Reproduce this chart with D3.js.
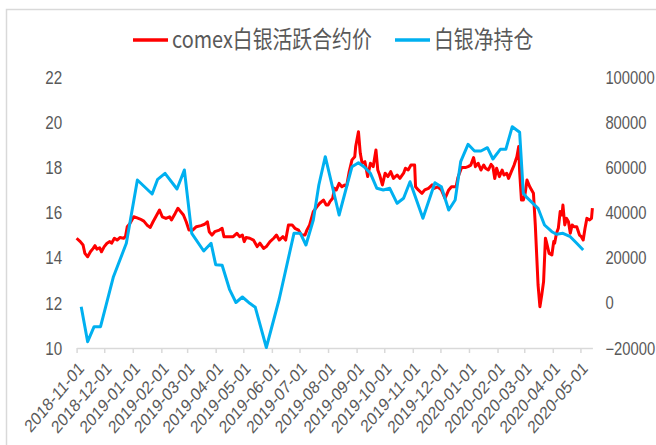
<!DOCTYPE html>
<html>
<head>
<meta charset="utf-8">
<script src="https://cdn.jsdelivr.net/npm/d3@7"></script>
<style>
  body { margin: 0; background: #fff; }
  svg { display: block; }
</style>
</head>
<body>
<div id="chart"></div>
<script>
// series names (legend)
var seriesNames = ["comex白银活跃合约价", "白银净持仓"];

// comex silver price, left axis
var priceDates = [
  "2018-11-01","2018-11-05","2018-11-08","2018-11-10","2018-11-13","2018-11-16","2018-11-19","2018-11-21","2018-11-23","2018-11-26",
  "2018-11-28","2018-12-01","2018-12-04","2018-12-07","2018-12-09","2018-12-12","2018-12-15","2018-12-18","2018-12-22","2018-12-24",
  "2018-12-26","2018-12-29","2019-01-02","2019-01-05","2019-01-09","2019-01-13","2019-01-17","2019-01-20","2019-01-23","2019-01-26",
  "2019-01-30","2019-02-02","2019-02-06","2019-02-10","2019-02-12","2019-02-16","2019-02-19","2019-02-22","2019-02-25","2019-02-28",
  "2019-03-03","2019-03-07","2019-03-11","2019-03-16","2019-03-20","2019-03-23","2019-03-25","2019-03-28","2019-03-31","2019-04-05",
  "2019-04-08","2019-04-10","2019-04-15","2019-04-20","2019-04-24","2019-04-27","2019-04-30","2019-05-02","2019-05-04","2019-05-08",
  "2019-05-12","2019-05-16","2019-05-19","2019-05-23","2019-05-26","2019-05-30","2019-06-03","2019-06-06","2019-06-09","2019-06-13",
  "2019-06-16","2019-06-19","2019-06-23","2019-06-26","2019-06-30","2019-07-03","2019-07-07","2019-07-09","2019-07-12","2019-07-16",
  "2019-07-20","2019-07-23","2019-07-27","2019-07-30","2019-08-01","2019-08-03","2019-08-06","2019-08-08","2019-08-10","2019-08-13",
  "2019-08-16","2019-08-19","2019-08-21","2019-08-24","2019-08-27","2019-08-30","2019-08-31","2019-09-03","2019-09-05","2019-09-07",
  "2019-09-10","2019-09-13","2019-09-16","2019-09-19","2019-09-22","2019-09-24","2019-09-26","2019-09-29","2019-10-02","2019-10-05",
  "2019-10-08","2019-10-11","2019-10-15","2019-10-18","2019-10-22","2019-10-24","2019-10-27","2019-10-30","2019-11-03","2019-11-04",
  "2019-11-07","2019-11-11","2019-11-14","2019-11-18","2019-11-22","2019-11-24","2019-11-28","2019-12-02","2019-12-06","2019-12-10",
  "2019-12-13","2019-12-18","2019-12-20","2019-12-24","2019-12-28","2019-12-31","2020-01-03","2020-01-06","2020-01-08","2020-01-11",
  "2020-01-14","2020-01-17","2020-01-19","2020-01-22","2020-01-25","2020-01-27","2020-01-29","2020-01-31","2020-02-03","2020-02-06",
  "2020-02-08","2020-02-11","2020-02-13","2020-02-16","2020-02-19","2020-02-22","2020-02-24","2020-02-25","2020-02-27","2020-02-29",
  "2020-03-02","2020-03-04","2020-03-07","2020-03-11","2020-03-13","2020-03-15","2020-03-16","2020-03-18","2020-03-20","2020-03-22",
  "2020-03-24","2020-03-25","2020-03-28","2020-03-31","2020-04-02","2020-04-03","2020-04-05","2020-04-07","2020-04-09","2020-04-11",
  "2020-04-12","2020-04-14","2020-04-16","2020-04-18","2020-04-20","2020-04-22","2020-04-24","2020-04-27","2020-04-30","2020-05-02",
  "2020-05-04","2020-05-06","2020-05-08","2020-05-11","2020-05-13","2020-05-14"
];
var priceValues = [
  14.86,14.71,14.56,14.19,14.04,14.26,14.41,14.53,14.38,14.44,
  14.26,14.49,14.64,14.71,14.64,14.86,14.78,14.89,14.86,14.93,
  15.37,15.52,15.81,15.77,15.71,15.62,15.42,15.34,15.59,15.81,
  16.11,15.81,15.74,15.81,15.67,15.96,16.19,16.04,15.89,15.59,
  15.22,15.22,15.37,15.42,15.48,15.59,15.15,15.00,15.15,15.22,
  15.30,14.93,14.93,14.93,15.08,14.93,15.00,14.71,14.89,14.86,
  14.78,14.49,14.64,14.41,14.49,14.71,14.86,15.00,14.78,14.93,
  14.78,15.45,15.45,15.30,15.22,15.00,15.00,15.22,15.45,16.04,
  16.26,16.41,16.55,16.33,16.33,16.48,16.63,17.07,17.00,17.29,
  17.14,17.22,17.14,17.81,18.33,18.47,18.92,19.58,18.62,18.18,
  18.25,17.59,18.18,18.03,18.77,17.88,17.66,17.22,17.74,17.59,
  17.81,17.51,17.66,17.51,17.74,17.96,17.88,18.10,18.10,17.14,
  17.00,16.85,17.00,17.07,17.22,17.07,17.14,17.00,16.63,17.00,
  17.14,17.14,17.55,17.99,17.99,18.03,18.10,18.43,18.03,18.18,
  17.88,18.10,17.96,17.88,18.13,18.03,17.51,17.96,17.59,17.88,
  17.66,17.74,17.51,17.81,18.10,18.47,18.92,17.81,16.55,16.55,
  16.85,17.44,17.14,16.85,15.45,13.68,12.79,11.83,12.35,12.94,
  14.86,14.71,14.19,14.12,14.71,14.64,15.08,15.30,16.04,15.89,
  16.33,15.45,15.74,15.59,15.08,15.45,15.37,15.37,15.00,14.93,
  14.78,15.30,15.74,15.67,15.74,16.19
];

// silver net position, right axis
var holdDates = [
  "2018-11-06","2018-11-13","2018-11-20","2018-11-27","2018-12-11","2018-12-25","2019-01-06","2019-01-22","2019-01-28","2019-02-05",
  "2019-02-18","2019-02-26","2019-03-06","2019-03-19","2019-03-27","2019-04-01","2019-04-08","2019-04-16","2019-04-23","2019-04-30",
  "2019-05-08","2019-05-14","2019-05-26","2019-06-09","2019-06-25","2019-07-02","2019-07-08","2019-07-16","2019-07-22","2019-07-29",
  "2019-08-13","2019-08-27","2019-09-03","2019-09-09","2019-09-16","2019-09-23","2019-09-30","2019-10-07","2019-10-15","2019-10-22",
  "2019-10-29","2019-11-12","2019-11-25","2019-12-02","2019-12-10","2019-12-17","2019-12-23","2019-12-31","2020-01-07","2020-01-14",
  "2020-01-21","2020-01-27","2020-02-04","2020-02-10","2020-02-17","2020-02-25","2020-02-29","2020-03-04","2020-03-16","2020-03-23",
  "2020-03-31","2020-04-05","2020-04-12","2020-04-20","2020-04-27","2020-05-04"
];
var holdValues = [
  -1700,-17200,-10570,-10570,11570,26360,54390,48190,54700,57360,
  50410,58820,30790,22950,26360,16890,16620,5990,150,2580,
  -200,-1980,-19780,1700,30790,30790,25610,36680,52180,64710,
  38890,60280,62050,60280,57360,50720,49960,50720,44070,46290,
  53640,37430,53200,51420,41110,45540,62500,70200,67230,67230,
  68690,63690,67990,67990,77990,75510,48500,46550,41860,34470,
  31500,30350,30790,29290,26360,23400
];

// axis ticks
var leftTicks = [10, 12, 14, 16, 18, 20, 22];
var rightTicks = [-20000, 0, 20000, 40000, 60000, 80000, 100000];
var xStart = "2018-11-01", xEnd = "2020-05-14";

var W = 656, H = 445;
var sx = 0.845; // the picture is squeezed horizontally
var red = "#FF0000", blue = "#00B0F0", grey = "#595959", light = "#D9D9D9";
var parse = d3.timeParse("%Y-%m-%d");

var price = priceDates.map(function(d, i) { return { date: parse(d), value: priceValues[i] }; });
var hold = holdDates.map(function(d, i) { return { date: parse(d), value: holdValues[i] }; });

var x = d3.scaleTime().domain([parse(xStart), parse(xEnd)]).range([76.6, 592.4]);
var yL = d3.scaleLinear().domain([10, 22]).range([348, 77]);
var yR = d3.scaleLinear().domain([-20000, 100000]).range([348, 77]);

var svg = d3.select("#chart").append("svg")
  .attr("width", W).attr("height", H);

svg.append("rect").attr("width", W).attr("height", H).attr("fill", "#fff");
svg.append("rect")
  .attr("x", 6.5).attr("y", 9.5).attr("width", W + 10).attr("height", H + 10)
  .attr("fill", "none").attr("stroke", light).attr("stroke-width", 1.5);

var numFont = "'Liberation Sans', Arial, sans-serif";
var cjkFont = "'Noto Sans CJK SC', 'Liberation Sans', sans-serif";

// bottom axis
var xAxis = svg.append("g")
  .attr("transform", "translate(0,348)")
  .call(d3.axisBottom(x)
    .ticks(d3.timeMonth.every(1))
    .tickSize(5).tickSizeOuter(0)
    .tickFormat(d3.timeFormat("%Y-%m-%d")));
xAxis.select(".domain").attr("stroke", light).attr("stroke-width", 1.5);
xAxis.selectAll(".tick line").attr("stroke", light).attr("stroke-width", 1.5);
xAxis.selectAll(".tick text")
  .attr("x", 0).attr("y", 0).attr("dy", "0.35em")
  .attr("text-anchor", "end")
  .attr("transform", "translate(4,17) scale(" + sx + ",1) rotate(-45)")
  .attr("fill", grey)
  .style("font-family", numFont).style("font-size", "18px");

// left axis
var lAxis = svg.append("g")
  .attr("transform", "translate(76.6,0)")
  .call(d3.axisLeft(yL).tickValues(leftTicks).tickSize(0));
lAxis.select(".domain").remove();
lAxis.selectAll(".tick text")
  .attr("x", 0).attr("dy", "0.35em")
  .attr("transform", "translate(-14.5,0) scale(" + sx + ",1)")
  .attr("fill", grey)
  .style("font-family", numFont).style("font-size", "18px");

// right axis
var rAxis = svg.append("g")
  .attr("transform", "translate(592.4,0)")
  .call(d3.axisRight(yR).tickValues(rightTicks).tickSize(0).tickFormat(d3.format("d")));
rAxis.select(".domain").remove();
rAxis.selectAll(".tick text")
  .attr("x", 0).attr("dy", "0.35em")
  .attr("transform", "translate(13,0) scale(" + sx + ",1)")
  .attr("fill", grey)
  .style("font-family", numFont).style("font-size", "17.5px");

// lines
var lineL = d3.line().x(function(d) { return x(d.date); }).y(function(d) { return yL(d.value); });
var lineR = d3.line().x(function(d) { return x(d.date); }).y(function(d) { return yR(d.value); });

svg.append("path").datum(price)
  .attr("d", lineL).attr("fill", "none")
  .attr("stroke", red).attr("stroke-width", 3).attr("stroke-linejoin", "round");

svg.append("path").datum(hold)
  .attr("d", lineR).attr("fill", "none")
  .attr("stroke", blue).attr("stroke-width", 3).attr("stroke-linejoin", "round");

// legend
var legendX = [133, 395];
var legendColors = [red, blue];
var legend = svg.selectAll(".legend").data(seriesNames).enter().append("g")
  .attr("class", "legend")
  .attr("transform", function(d, i) { return "translate(" + legendX[i] + ",40)"; });
legend.append("line")
  .attr("x1", 0).attr("x2", 35).attr("y1", 0).attr("y2", 0)
  .attr("stroke", function(d, i) { return legendColors[i]; })
  .attr("stroke-width", 3.5);
legend.append("text")
  .attr("dy", "0.35em")
  .attr("transform", "translate(39,0) scale(" + sx + ",1)")
  .attr("fill", grey)
  .style("font-family", cjkFont).style("font-size", "23.5px")
  .text(function(d) { return d; });
</script>
</body>
</html>
